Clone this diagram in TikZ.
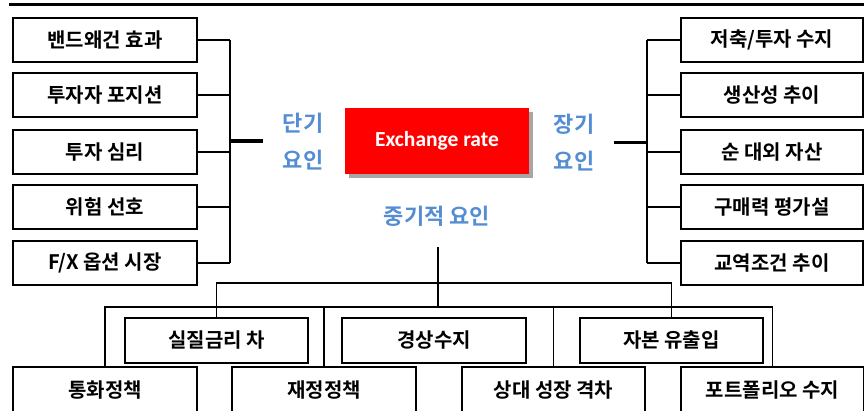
\documentclass[tikz,border=0pt]{standalone}
\usepackage{fontspec}
\setmainfont{Noto Sans CJK KR}[BoldFont={Noto Sans CJK KR Bold}]
\newfontfamily\latinfont{Carlito}
\usetikzlibrary{shadows}
\definecolor{labelblue}{RGB}{84,141,212}
\definecolor{exred}{RGB}{255,0,0}
\tikzset{
  factor/.style={draw=black, line width=1.8pt, fill=white, inner sep=0pt,
    font=\fontsize{20}{22}\selectfont\bfseries, text=black},
  lbox/.style={factor, minimum width=184pt, minimum height=44pt},
  conn/.style={line width=1.5pt, black},
  stub/.style={line width=3.5pt, black},
  grouplabel/.style={font=\fontsize{22}{37}\selectfont\bfseries, text=labelblue, align=center},
  centerbox/.style={fill=exred, minimum width=184pt, minimum height=66pt, inner sep=0pt,
    text=white, font=\latinfont\fontsize{21.5}{24}\selectfont\bfseries,
    drop shadow={shadow xshift=4pt, shadow yshift=-4pt, fill=black, opacity=0.35}}
}
\begin{document}
\begin{tikzpicture}[x=1pt,y=-1pt]
\useasboundingbox (0,0) rectangle (864,410);
\clip (0,0) rectangle (864,410);
% top rule
\draw[line width=2.8pt] (9,4.5) -- (864,4.5);

% centre
\node[centerbox] (rate) at (437,140.7) {Exchange rate};
\node[grouplabel] (short) at (303,142) {단기\\요인};
\node[grouplabel] (long) at (574,143) {장기\\요인};
\node[grouplabel] (mid) at (437,216) {중기적 요인};

% left column
\node[lbox] (l1) at (105,40) {밴드왜건 효과};
\node[lbox] (l2) at (105,95) {투자자 포지션};
\node[lbox] (l3) at (105,152) {투자 심리};
\node[lbox] (l4) at (105,207) {위험 선호};
\node[lbox] (l5) at (105,263) {F/X 옵션 시장};

% right column
\node[lbox, minimum width=182pt] (r1) at (772,40) {저축/투자 수지};
\node[lbox, minimum width=182pt] (r2) at (772,95) {생산성 추이};
\node[lbox, minimum width=182pt] (r3) at (772,152) {순 대외 자산};
\node[lbox, minimum width=182pt] (r4) at (772,207) {구매력 평가설};
\node[lbox, minimum width=182pt] (r5) at (772,263) {교역조건 추이};

% left bus
\coordinate (lbusT) at (230,40);
\coordinate (lbusB) at (230,263);
\coordinate (lhub) at (230,141);
\coordinate (lstub) at (263,141);
\draw[conn] (lbusT) -- (lbusB);
\foreach \n in {l1,l2,l3,l4,l5} \draw[conn] (\n.east) -- (\n.east -| lhub);
\draw[stub] (lhub) -- (lstub);

% right bus
\coordinate (rbusT) at (647,40);
\coordinate (rbusB) at (647,263);
\coordinate (rhub) at (647,142.7);
\coordinate (rstub) at (614,142.7);
\draw[conn] (rbusT) -- (rbusB);
\foreach \n in {r1,r2,r3,r4,r5} \draw[conn] (\n.west) -- (\n.west -| rhub);
\draw[stub] (rhub) -- (rstub);

% middle row boxes
\node[lbox, minimum width=183pt, minimum height=45pt] (m1) at (216.5,340.5) {실질금리 차};
\node[lbox, minimum width=184pt, minimum height=45pt] (m2) at (434,340.5) {경상수지};
\node[lbox, minimum width=183pt, minimum height=45pt] (m3) at (671.5,340.5) {자본 유출입};

% bottom row boxes
\node[lbox, minimum width=184pt, minimum height=46pt] (b1) at (105,390) {통화정책};
\node[lbox, minimum width=184pt, minimum height=46pt] (b2) at (324,390) {재정정책};
\node[lbox, minimum width=183pt, minimum height=46pt] (b3) at (553.5,390) {상대 성장 격차};
\node[lbox, minimum width=183pt, minimum height=46pt] (b4) at (772.5,390) {포트폴리오 수지};

% middle tree
\coordinate (mtop) at (438,247);
\coordinate (mbot) at (438,307);
\draw[line width=2pt] (mtop) -- (mbot);
\coordinate (busA) at (438,283);
\coordinate (busB) at (438,307);
\draw[conn] (m1.north) |- (busA) -| (m3.north);
\draw[conn] (b1.north) |- (busB) -| (b4.north);
\draw[conn] (b2.north) -- (b2.north |- busB);
\draw[conn] (b3.north) -- (b3.north |- busB);
\end{tikzpicture}
\end{document}
